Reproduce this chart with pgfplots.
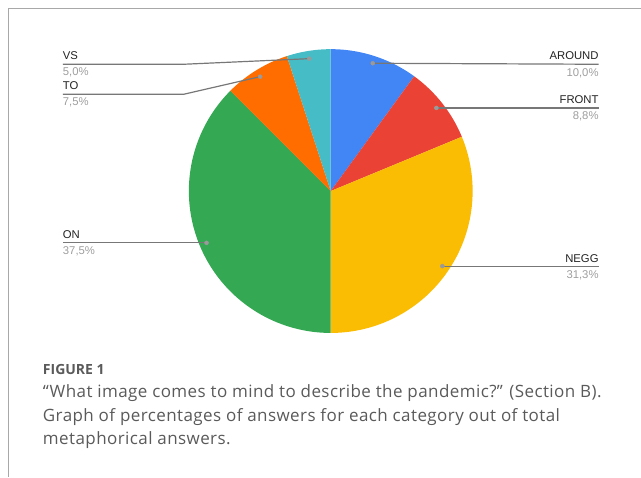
\documentclass[border=0pt]{standalone}
\usepackage{pgfplots}
\pgfplotsset{compat=1.18}
\usepackage{fontspec}
\setmainfont{Liberation Sans}
\newfontfamily\capfont[LetterSpace=2.5]{Open Sans}
\newfontfamily\capfontb{Open Sans}
\definecolor{cBlue}{HTML}{4285F4}
\definecolor{cRed}{HTML}{EA4335}
\definecolor{cYellow}{HTML}{FBBC04}
\definecolor{cGreen}{HTML}{34A853}
\definecolor{cOrange}{HTML}{FF6D01}
\definecolor{cTeal}{HTML}{46BDC6}
\definecolor{leader}{HTML}{777777}
\definecolor{dotc}{HTML}{9A9A9A}
\definecolor{pct}{HTML}{9E9E9E}
\definecolor{txt}{HTML}{222222}
\definecolor{cap}{HTML}{5A5A5A}
\definecolor{frame}{HTML}{A8A8A8}
\tikzset{
  lab/.style={inner sep=0pt, outer sep=0pt, text=txt, font=\fontsize{11.3}{13}\selectfont},
  pc/.style={lab, text=pct},
  capt/.style={inner sep=0pt, outer sep=0pt, text=cap, font=\capfont\fontsize{17}{19}\selectfont},
}
\def\cx{331}\def\cy{191.2}\def\rr{142}
\gdef\cum{0}
\newcommand\slice[2]{%
  \pgfmathsetmacro\angB{90-3.6*\cum}%
  \pgfmathsetmacro\cumnew{\cum+#1}%
  \pgfmathsetmacro\angA{90-3.6*\cumnew}%
  \global\let\cum\cumnew
  \edef\tmp{\noexpand\addplot[fill=#2, draw=none, domain=\angA:\angB, samples=80]
    ({\cx+\rr*cos(x)},{\cy-\rr*sin(x)}) -- (axis cs:\cx,\cy) -- cycle;}\tmp}
\begin{document}
\begin{tikzpicture}
\begin{axis}[
  x=1pt, y=1pt, scale only axis,
  xmin=0, xmax=641, ymin=0, ymax=477, y dir=reverse,
  hide axis, clip=false,
]
% frame
\addplot[frame, line width=1pt] coordinates {(641,9) (8.5,9) (8.5,477)};
% slices (percent of answers, clockwise from top)
\slice{10}{cBlue}     % AROUND
\slice{8.75}{cRed}    % FRONT
\slice{31.25}{cYellow}% NEGG
\slice{37.5}{cGreen}  % ON
\slice{7.5}{cOrange}  % TO
\slice{5}{cTeal}      % VS
% leader lines
\addplot[leader, line width=1.2pt] coordinates {(373,63.3) (599,64.3)};
\addplot[leader, line width=1.2pt] coordinates {(436.7,108) (599,108)};
\addplot[leader, line width=1.2pt] coordinates {(442.7,266.3) (599,266.3)};
\addplot[leader, line width=1.2pt] coordinates {(206.7,243) (63,243)};
\addplot[leader, line width=1.2pt] coordinates {(309.5,58.7) (184,64.3) (63,64.3)};
\addplot[leader, line width=1.2pt] coordinates {(260.4,76.7) (184,94.3) (63,94.3)};
% dots
\addplot[only marks, mark=*, mark size=2pt, dotc, mark options={draw=dotc, fill=dotc}]
  coordinates {(373,63.3) (436.7,108) (442.7,266.3) (206.7,243) (309.5,58.7) (260.4,76.7)};
% labels
\node[lab, anchor=base east] at (axis cs:599,60) {AROUND};
\node[pc, anchor=base east] at (axis cs:599,76.5) {10,0\%};
\node[lab, anchor=base east] at (axis cs:599,104) {FRONT};
\node[pc, anchor=base east] at (axis cs:599,120) {8,8\%};
\node[lab, anchor=base east] at (axis cs:599,262.3) {NEGG};
\node[pc, anchor=base east] at (axis cs:599,278.3) {31,3\%};
\node[lab, anchor=base west] at (axis cs:63,239) {ON};
\node[pc, anchor=base west] at (axis cs:63,255) {37,5\%};
\node[lab, anchor=base west] at (axis cs:63,60) {VS};
\node[pc, anchor=base west] at (axis cs:63,76) {5,0\%};
\node[lab, anchor=base west] at (axis cs:63,90) {TO};
\node[pc, anchor=base west] at (axis cs:63,106) {7,5\%};
% caption
\node[capt, anchor=base west, font=\capfontb\bfseries\fontsize{14}{16}\selectfont] at (axis cs:43,375) {FIGURE 1};
\node[capt, anchor=base west] at (axis cs:43,398) {“What image comes to mind to describe the pandemic?” (Section B).};
\node[capt, anchor=base west] at (axis cs:43,421.5) {Graph of percentages of answers for each category out of total};
\node[capt, anchor=base west] at (axis cs:43,445) {metaphorical answers.};
\end{axis}
\path[use as bounding box] (current axis.south west) rectangle (current axis.north east);
\end{tikzpicture}
\end{document}
